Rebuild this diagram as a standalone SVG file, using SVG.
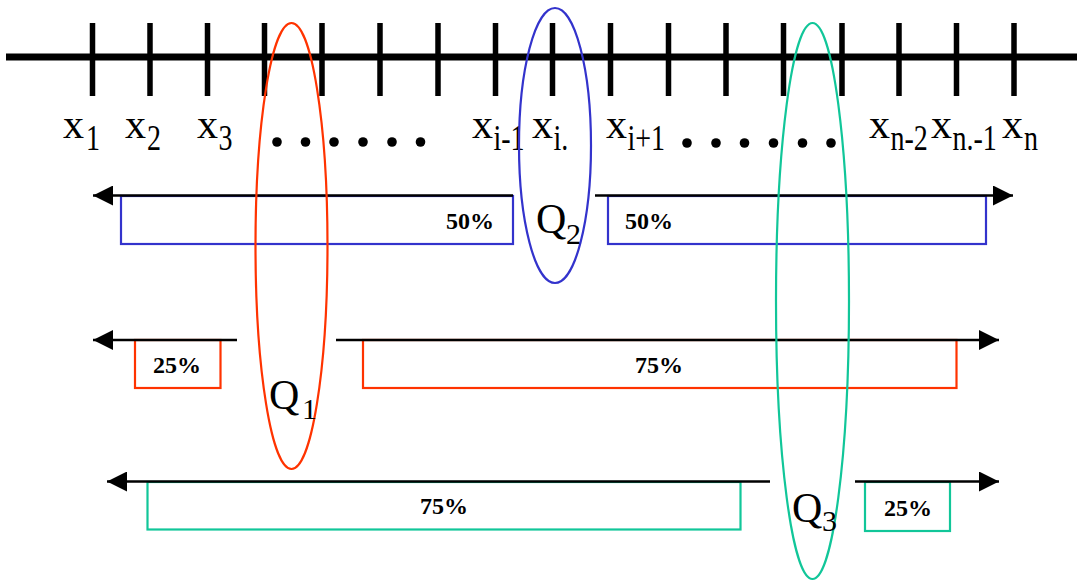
<svg xmlns="http://www.w3.org/2000/svg" width="1077" height="583" viewBox="0 0 1077 583">
<style>
.axis{stroke:#000;stroke-width:7;fill:none}
.tick{stroke:#000;stroke-width:5.5}
.lbl{font-family:"Liberation Serif","Times New Roman",serif;font-size:42px;fill:#000}
.sub{font-family:"Liberation Serif","Times New Roman",serif;font-size:28px;fill:#000}
.qsub{font-family:"Liberation Serif","Times New Roman",serif;font-size:30px;fill:#000}
.pct{font-family:"Liberation Serif","Times New Roman",serif;font-size:24px;font-weight:bold;fill:#000}
.arr{stroke:#000;stroke-width:2.5;fill:none}
.dot{fill:#000}
.blue{stroke:#3333cc;stroke-width:2.2;fill:none}
.red{stroke:#ff3300;stroke-width:2.2;fill:none}
.green{stroke:#11c699;stroke-width:2.2;fill:none}
</style>
<defs>
<marker id="ah" markerUnits="userSpaceOnUse" markerWidth="20" markerHeight="20" refX="20" refY="10" orient="auto-start-reverse" viewBox="0 0 20 20">
<path d="M0,0 L20,10 L0,20 z" fill="#000"/>
</marker>
</defs>
<rect width="1077" height="583" fill="#fff"/>
<g id="axis">
<line class="axis" x1="6" y1="57" x2="1077" y2="57"/>
<line class="tick" x1="92.5" y1="23" x2="92.5" y2="96"/>
<line class="tick" x1="150" y1="23" x2="150" y2="96"/>
<line class="tick" x1="207.5" y1="23" x2="207.5" y2="96"/>
<line class="tick" x1="264.5" y1="23" x2="264.5" y2="96"/>
<line class="tick" x1="322" y1="23" x2="322" y2="96"/>
<line class="tick" x1="380" y1="23" x2="380" y2="96"/>
<line class="tick" x1="438" y1="23" x2="438" y2="96"/>
<line class="tick" x1="495.5" y1="23" x2="495.5" y2="96"/>
<line class="tick" x1="552.5" y1="23" x2="552.5" y2="96"/>
<line class="tick" x1="610.5" y1="23" x2="610.5" y2="96"/>
<line class="tick" x1="668.5" y1="23" x2="668.5" y2="96"/>
<line class="tick" x1="726" y1="23" x2="726" y2="96"/>
<line class="tick" x1="783.5" y1="23" x2="783.5" y2="96"/>
<line class="tick" x1="842" y1="23" x2="842" y2="96"/>
<line class="tick" x1="899" y1="23" x2="899" y2="96"/>
<line class="tick" x1="956.5" y1="23" x2="956.5" y2="96"/>
<line class="tick" x1="1014" y1="23" x2="1014" y2="96"/>
</g>
<g id="labels">
<text class="lbl" x="63" y="138">x</text><text class="sub" transform="translate(86,150) scale(1,1.3)">1</text>
<text class="lbl" x="125" y="138">x</text><text class="sub" transform="translate(147,150) scale(1,1.3)">2</text>
<text class="lbl" x="197" y="138">x</text><text class="sub" transform="translate(218.5,150) scale(1,1.3)">3</text>
<text class="lbl" x="472" y="138">x</text><text class="sub" transform="translate(493.5,150) scale(1,1.3)">i-1</text>
<text class="lbl" x="532" y="138">x</text><text class="sub" transform="translate(553.5,150) scale(1,1.3)">i.</text>
<text class="lbl" x="606" y="138">x</text><text class="sub" transform="translate(627.5,150) scale(1,1.3)">i+1</text>
<text class="lbl" x="869" y="138">x</text><text class="sub" transform="translate(890.5,150) scale(1,1.3)">n-2</text>
<text class="lbl" x="931" y="138">x</text><text class="sub" transform="translate(952.5,150) scale(1,1.3)">n.-1</text>
<text class="lbl" x="1002" y="138">x</text><text class="sub" transform="translate(1024,150) scale(1,1.3)">n</text>
<circle class="dot" cx="277" cy="142" r="4.8"/>
<circle class="dot" cx="305.5" cy="142" r="4.8"/>
<circle class="dot" cx="334" cy="142" r="4.8"/>
<circle class="dot" cx="363" cy="142" r="4.8"/>
<circle class="dot" cx="392" cy="142" r="4.8"/>
<circle class="dot" cx="420.5" cy="142" r="4.8"/>
<circle class="dot" cx="687" cy="143" r="4.8"/>
<circle class="dot" cx="716" cy="143" r="4.8"/>
<circle class="dot" cx="744.5" cy="143" r="4.8"/>
<circle class="dot" cx="773.5" cy="143" r="4.8"/>
<circle class="dot" cx="802.5" cy="143" r="4.8"/>
<circle class="dot" cx="831" cy="143" r="4.8"/>
</g>
<g id="row-median">
<rect class="blue" x="121" y="196" width="392" height="48"/>
<text class="pct" x="446" y="229">50%</text>
<rect class="blue" x="608" y="196" width="378" height="48"/>
<text class="pct" x="625" y="229">50%</text>
</g>
<g id="row-q1">
<rect class="red" x="135" y="340" width="85.5" height="48"/>
<text class="pct" x="153" y="373">25%</text>
<rect class="red" x="363" y="340" width="593.5" height="48"/>
<text class="pct" x="635" y="373">75%</text>
</g>
<g id="row-q3">
<rect class="green" x="147.5" y="482" width="593" height="47.5"/>
<text class="pct" x="420" y="514">75%</text>
<rect class="green" x="865" y="482" width="85" height="49"/>
<text class="pct" x="884" y="516">25%</text>
</g>
<g id="connectors">
<line class="arr" x1="513" y1="195.5" x2="93" y2="195.5" marker-end="url(#ah)"/>
<line class="arr" x1="595" y1="195.5" x2="1013" y2="195.5" marker-end="url(#ah)"/>
<line class="arr" x1="237" y1="340" x2="93" y2="340" marker-end="url(#ah)"/>
<line class="arr" x1="336" y1="340" x2="999" y2="340" marker-end="url(#ah)"/>
<line class="arr" x1="770" y1="481.5" x2="107" y2="481.5" marker-end="url(#ah)"/>
<line class="arr" x1="855" y1="481.5" x2="999" y2="481.5" marker-end="url(#ah)"/>
</g>
<g id="q1">
<ellipse class="red" cx="291.5" cy="246" rx="36" ry="223"/>
<text class="lbl" x="269" y="409">Q</text><text class="qsub" x="302" y="419">1</text>
</g>
<g id="q2">
<ellipse class="blue" cx="555" cy="145.5" rx="36" ry="137.5"/>
<text class="lbl" x="536" y="233">Q</text><text class="qsub" x="566" y="244">2</text>
</g>
<g id="q3">
<ellipse class="green" cx="812.5" cy="301" rx="36.5" ry="278"/>
<text class="lbl" x="792" y="522">Q</text><text class="qsub" x="822" y="531">3</text>
</g>
</svg>
